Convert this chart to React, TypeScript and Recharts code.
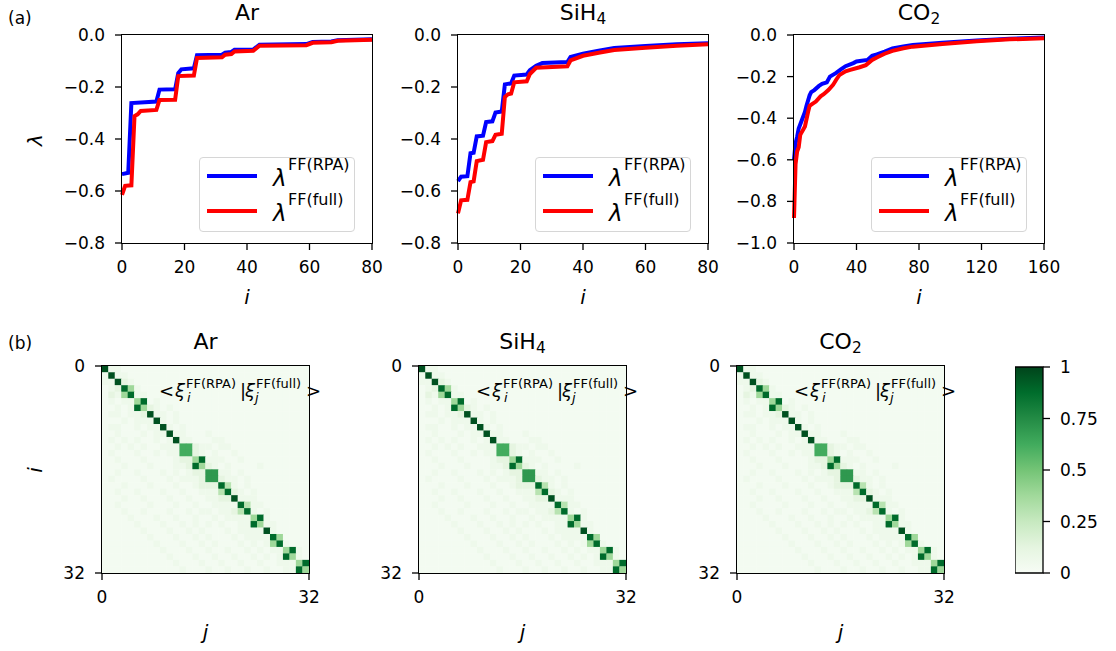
import React from 'react';
import { LineChart, Line, XAxis, YAxis, ScatterChart, Scatter, BarChart, Bar } from 'recharts';

const FONT = '"DejaVu Sans", "Liberation Sans", sans-serif';

// (a) eigenvalue curves, [i, lambda] breakpoints
const AR_RPA: [number, number][] = [
  [0, -0.535], [2, -0.53], [3, -0.262], [11, -0.256], [12, -0.21], [17, -0.209], [18, -0.147],
  [19, -0.132], [23, -0.128], [24, -0.078], [32, -0.076], [33, -0.068], [35, -0.065], [36, -0.057],
  [42, -0.056], [44, -0.037], [59, -0.035], [61, -0.027], [67, -0.025], [69, -0.02], [80, -0.016],
];
const AR_FULL: [number, number][] = [
  [0, -0.615], [1, -0.58], [3, -0.578], [4, -0.312], [5, -0.305], [6, -0.292], [11, -0.288],
  [12, -0.25], [17, -0.249], [18, -0.158], [23, -0.156], [24, -0.088], [32, -0.086], [33, -0.076],
  [35, -0.073], [36, -0.063], [42, -0.061], [44, -0.041], [59, -0.039], [61, -0.03], [67, -0.028],
  [69, -0.022], [80, -0.018],
];
const SIH4_RPA: [number, number][] = [
  [0, -0.562], [1, -0.545], [3, -0.543], [4, -0.455], [5, -0.453], [6, -0.39], [8, -0.387],
  [9, -0.335], [11, -0.332], [12, -0.298], [14, -0.294], [15, -0.19], [17, -0.186], [18, -0.156],
  [22, -0.152], [23, -0.135], [25, -0.118], [27, -0.108], [35, -0.104], [36, -0.085], [40, -0.072],
  [45, -0.06], [50, -0.05], [60, -0.042], [70, -0.036], [80, -0.032],
];
const SIH4_FULL: [number, number][] = [
  [0, -0.686], [1, -0.636], [3, -0.634], [4, -0.566], [5, -0.563], [6, -0.485], [8, -0.48],
  [9, -0.412], [11, -0.408], [12, -0.384], [14, -0.38], [15, -0.238], [16, -0.228], [17, -0.225],
  [18, -0.182], [22, -0.178], [23, -0.15], [25, -0.126], [35, -0.12], [36, -0.098], [40, -0.08],
  [45, -0.068], [50, -0.058], [60, -0.049], [70, -0.041], [80, -0.036],
];
const CO2_RPA: [number, number][] = [
  [0, -0.6], [1, -0.52], [2, -0.49], [3, -0.45], [5, -0.41], [7, -0.37], [8, -0.34], [10, -0.29],
  [11, -0.275], [13, -0.265], [16, -0.245], [18, -0.235], [21, -0.228], [23, -0.2], [27, -0.182],
  [30, -0.165], [33, -0.15], [38, -0.135], [40, -0.127], [47, -0.12], [50, -0.1], [53, -0.093],
  [58, -0.08], [63, -0.065], [70, -0.055], [76, -0.048], [95, -0.037], [117, -0.027], [138, -0.018],
  [160, -0.012],
];
const CO2_FULL: [number, number][] = [
  [0, -0.88], [1, -0.62], [2, -0.56], [3, -0.54], [4, -0.48], [7, -0.44], [9, -0.37], [10, -0.34],
  [12, -0.33], [14, -0.32], [17, -0.295], [19, -0.285], [22, -0.265], [25, -0.24], [27, -0.215],
  [29, -0.193], [33, -0.175], [36, -0.168], [42, -0.155], [46, -0.145], [50, -0.12], [53, -0.108],
  [58, -0.09], [63, -0.076], [70, -0.064], [76, -0.056], [95, -0.043], [117, -0.03], [138, -0.021],
  [160, -0.016],
];

const X_TICKS_80 = [0, 20, 40, 60, 80];
const X_TICKS_160 = [0, 40, 80, 120, 160];
const Y_TICKS_08 = [-0.8, -0.6, -0.4, -0.2, 0];
const Y_TICKS_10 = [-1, -0.8, -0.6, -0.4, -0.2, 0];

// (b) overlap matrix, one char per cell (level code), rows i = 0..31
const HEAT_ROWS = [
  '91100000 00000000 00000000 00000000',
  '19110000 00000000 00000000 00000000',
  '11921000 00000000 00000000 00000000',
  '01284100 00000000 00000000 00000000',
  '02148110 00000000 00000000 00000000',
  '01011480 10000000 00000000 00000000',
  '00101842 10100000 00000000 00000000',
  '01101129 11010000 00000000 00000000',
  '00010111 91010000 00000000 00000000',
  '01100101 19101000 00000000 00000000',
  '00100010 11911000 10000000 00000000',
  '01010100 10191100 01100000 00000000',
  '00101010 01116621 10110000 00000000',
  '01000100 10116621 01001000 00000000',
  '00100010 00012248 11100100 00000000',
  '00010001 00011284 21010000 10000000',
  '00100100 01010122 77110100 00000000',
  '01000010 00101112 77211010 00000000',
  '00010001 00010012 22831010 00000000',
  '00100100 01001001 11382101 00000000',
  '00010010 00100100 11229111 00000000',
  '00100001 00010010 01111831 10000000',
  '00010010 00100101 10112381 01000000',
  '00001000 10010010 01011114 81000000',
  '00000100 01001010 10100118 41100000',
  '00000010 00100101 00010111 19100000',
  '00000001 00010010 10001011 11840000',
  '00000000 10001001 01000101 01481000',
  '00000000 01000100 10010010 10114810',
  '00000000 00100010 01001001 01018410',
  '00000000 00010001 00100100 10011148',
  '00000000 00001000 10010010 01001184',
];
const LEVELS: Record<string, number> = {
  '0': 0.025, '1': 0.06, '2': 0.12, '3': 0.3, '4': 0.38, '5': 0.5, '6': 0.62, '7': 0.7, '8': 0.88, '9': 0.96,
};
const HEAT_TICKS = [0, 32];
const CB_TICKS = [0, 0.25, 0.5, 0.75, 1];
const GREENS = ['#f7fcf5', '#e5f5e0', '#c7e9c0', '#a1d99b', '#74c476', '#41ab5d', '#238b45', '#006d2c', '#00441b'];

// layout
const PT = 35, PH = 208, PW = 250, YW = 62, MT = 12, MR = 26, XH = 40;
const HT = 366, HS = 207, HYW = 45, HMT = 12, HMR = 22;

const toPts = (arr: [number, number][]) => arr.map(([i, v]) => ({ i, v }));
const fmtTick = (v: number) => (v === 0 ? '0.0' : v.toFixed(1).replace('-', '\u2212'));

const hexRgb = (h: string) => [1, 3, 5].map((k) => parseInt(h.slice(k, k + 2), 16));
const greens = (v: number) => {
  const t = Math.max(0, Math.min(1, v)) * (GREENS.length - 1);
  const k = Math.min(Math.floor(t), GREENS.length - 2);
  const f = t - k;
  const a = hexRgb(GREENS[k]);
  const b = hexRgb(GREENS[k + 1]);
  const c = a.map((x, n) => Math.round(x + (b[n] - x) * f));
  return `rgb(${c[0]},${c[1]},${c[2]})`;
};

const buildCells = (rows: string[]) => {
  const out: { x: number; y: number; v: number }[] = [];
  rows.forEach((r, i) => {
    const s = r.replace(/ /g, '').padEnd(32, '0');
    for (let j = 0; j < 32; j++) out.push({ x: j + 0.5, y: i + 0.5, v: LEVELS[s[j]] ?? 0.025 });
  });
  return out;
};
const CELLS = buildCells(HEAT_ROWS);

const tickStyle = { fill: '#000', fontSize: 17, fontFamily: FONT };
const tickLineStyle = { stroke: '#000', strokeWidth: 1.3 };

function Txt({ x, y, size, italic, center, children }: any) {
  return (
    <div
      style={{
        position: 'absolute', left: x, top: y - 0.846 * size, fontSize: size, lineHeight: 1,
        fontFamily: FONT, fontStyle: italic ? 'italic' : 'normal', whiteSpace: 'nowrap', color: '#000',
        transform: center ? 'translateX(-50%)' : undefined,
      }}
    >
      {children}
    </div>
  );
}

function CLabel({ cx, cy, size, rotate, children }: any) {
  return (
    <div
      style={{
        position: 'absolute', left: cx, top: cy, fontSize: size, lineHeight: 1, fontFamily: FONT,
        fontStyle: 'italic', color: '#000', whiteSpace: 'nowrap',
        transform: `translate(-50%, -50%)${rotate ? ' rotate(-90deg)' : ''}`,
      }}
    >
      {children}
    </div>
  );
}

function Frame({ left, top, w, h }: any) {
  return (
    <div
      style={{
        position: 'absolute', left: left - 0.65, top: top - 0.65, width: w + 1.3, height: h + 1.3,
        border: '1.3px solid #000', boxSizing: 'border-box', pointerEvents: 'none',
      }}
    />
  );
}

function LegendBox({ left, top }: any) {
  const row = (dy: number, color: string, sup: string) => (
    <>
      <div style={{ position: 'absolute', left: 7, top: dy - 2, width: 50, height: 4, background: color }} />
      <Txt x={73} y={dy + 10} size={23} italic>λ</Txt>
      <Txt x={88} y={dy - 5} size={16}>{sup}</Txt>
    </>
  );
  return (
    <div
      style={{
        position: 'absolute', left, top, width: 156, height: 75, border: '1.3px solid #d6d6d6',
        borderRadius: 4, background: 'rgba(255,255,255,0.85)', boxSizing: 'border-box',
      }}
    >
      {row(18, '#0000ff', 'FF(RPA)')}
      {row(53, '#ff0000', 'FF(full)')}
    </div>
  );
}

function LinePanel({ plotLeft, rpa, full, xMax, xTicks, yMin, yTicks }: any) {
  return (
    <>
      <div style={{ position: 'absolute', left: plotLeft - YW, top: PT - MT }}>
        <LineChart width={YW + PW + MR} height={MT + PH + XH} margin={{ top: MT, right: MR, left: 0, bottom: 0 }}>
          <XAxis
            type="number" dataKey="i" domain={[0, xMax]} ticks={xTicks} height={XH} interval={0}
            axisLine={false} tickLine={tickLineStyle} tickSize={7} tickMargin={11} tick={tickStyle}
          />
          <YAxis
            type="number" domain={[yMin, 0]} ticks={yTicks} width={YW} tickFormatter={fmtTick} interval={0}
            axisLine={false} tickLine={tickLineStyle} tickSize={7} tickMargin={10} tick={tickStyle}
          />
          <Line data={toPts(rpa)} dataKey="v" type="linear" stroke="#0000ff" strokeWidth={4} dot={false} isAnimationActive={false} />
          <Line data={toPts(full)} dataKey="v" type="linear" stroke="#ff0000" strokeWidth={4} dot={false} isAnimationActive={false} />
        </LineChart>
      </div>
      <Frame left={plotLeft} top={PT} w={PW} h={PH} />
      <LegendBox left={plotLeft + 77} top={PT + 122} />
    </>
  );
}

const CELL = HS / 32;
const renderCell = (p: any) => (
  <rect
    x={p.cx - CELL / 2 - 0.2} y={p.cy - CELL / 2 - 0.2} width={CELL + 0.4} height={CELL + 0.4}
    fill={greens(p.payload.v)} stroke="none"
  />
);

function HeatPanel({ plotLeft, cells }: any) {
  return (
    <>
      <div style={{ position: 'absolute', left: plotLeft - HYW, top: HT - HMT }}>
        <ScatterChart width={HYW + HS + HMR} height={HMT + HS + XH} margin={{ top: HMT, right: HMR, left: 0, bottom: 0 }}>
          <XAxis
            type="number" dataKey="x" domain={[0, 32]} ticks={HEAT_TICKS} height={XH} interval={0}
            axisLine={false} tickLine={tickLineStyle} tickSize={7} tickMargin={11} tick={tickStyle}
          />
          <YAxis
            type="number" dataKey="y" domain={[0, 32]} ticks={HEAT_TICKS} reversed width={HYW} interval={0}
            axisLine={false} tickLine={tickLineStyle} tickSize={7} tickMargin={10} tick={tickStyle}
          />
          <Scatter data={cells} shape={renderCell} isAnimationActive={false} />
        </ScatterChart>
      </div>
      <Frame left={plotLeft} top={HT} w={HS} h={HS} />
      <Txt x={plotLeft + 57} y={HT + 31} size={18}>&lt;</Txt>
      <Txt x={plotLeft + 73} y={HT + 31} size={18} italic>ξ</Txt>
      <Txt x={plotLeft + 84} y={HT + 22} size={13}>FF(RPA)</Txt>
      <Txt x={plotLeft + 85} y={HT + 36} size={13} italic>i</Txt>
      <Txt x={plotLeft + 138} y={HT + 31} size={18}>|</Txt>
      <Txt x={plotLeft + 143} y={HT + 31} size={18} italic>ξ</Txt>
      <Txt x={plotLeft + 154} y={HT + 22} size={13}>FF(full)</Txt>
      <Txt x={plotLeft + 153} y={HT + 36} size={13} italic>j</Txt>
      <Txt x={plotLeft + 204} y={HT + 31} size={18}>&gt;</Txt>
    </>
  );
}

function ColorBar() {
  const left = 1015, top = 367, w = 28, h = 206;
  return (
    <div style={{ position: 'absolute', left, top: top - 12 }}>
      <BarChart width={w + 70} height={h + 24} data={[{ k: 'cb', v: 1 }]} margin={{ top: 12, right: 0, left: 0, bottom: 12 }} barCategoryGap={0} barGap={0}>
        <defs>
          <linearGradient id="cbGrad" x1="0" y1="1" x2="0" y2="0">
            {GREENS.map((c, n) => (
              <stop key={n} offset={`${(n / (GREENS.length - 1)) * 100}%`} stopColor={c} />
            ))}
          </linearGradient>
        </defs>
        <XAxis dataKey="k" hide />
        <YAxis
          orientation="right" type="number" domain={[0, 1]} ticks={CB_TICKS} width={70} interval={0}
          axisLine={false} tickLine={tickLineStyle} tickSize={7} tickMargin={10} tick={{ ...tickStyle, textAnchor: 'start' }}
        />
        <Bar dataKey="v" fill="url(#cbGrad)" stroke="#000" strokeWidth={1.3} isAnimationActive={false} />
      </BarChart>
    </div>
  );
}

const TOP_LEFTS = [122, 458, 794];
const HEAT_LEFTS = [102, 419, 737];

export default function App() {
  const sub = (t: string) => <span style={{ fontSize: '0.7em', position: 'relative', top: '0.25em' }}>{t}</span>;
  const titles = [<>Ar</>, <>SiH{sub('4')}</>, <>CO{sub('2')}</>];
  return (
    <div style={{ position: 'absolute', left: 0, top: 0, width: 1116, height: 651, background: '#fff', fontFamily: FONT, overflow: 'hidden' }}>
      <Txt x={8} y={24} size={17}>(a)</Txt>
      <Txt x={8} y={349} size={17}>(b)</Txt>

      <LinePanel plotLeft={TOP_LEFTS[0]} rpa={AR_RPA} full={AR_FULL} xMax={80} xTicks={X_TICKS_80} yMin={-0.8} yTicks={Y_TICKS_08} />
      <LinePanel plotLeft={TOP_LEFTS[1]} rpa={SIH4_RPA} full={SIH4_FULL} xMax={80} xTicks={X_TICKS_80} yMin={-0.8} yTicks={Y_TICKS_08} />
      <LinePanel plotLeft={TOP_LEFTS[2]} rpa={CO2_RPA} full={CO2_FULL} xMax={160} xTicks={X_TICKS_160} yMin={-1} yTicks={Y_TICKS_10} />

      {TOP_LEFTS.map((l, n) => (
        <Txt key={'tt' + n} x={l + PW / 2} y={21} size={22} center>{titles[n]}</Txt>
      ))}
      {TOP_LEFTS.map((l, n) => (
        <CLabel key={'ti' + n} cx={l + PW / 2} cy={297} size={20}>i</CLabel>
      ))}
      <CLabel cx={35} cy={140} size={20} rotate>λ</CLabel>

      {HEAT_LEFTS.map((l, n) => (
        <HeatPanel key={'hp' + n} plotLeft={l} cells={CELLS} />
      ))}
      {HEAT_LEFTS.map((l, n) => (
        <Txt key={'ht' + n} x={l + HS / 2} y={350} size={22} center>{titles[n]}</Txt>
      ))}
      {HEAT_LEFTS.map((l, n) => (
        <CLabel key={'hj' + n} cx={l + HS / 2} cy={632} size={20}>j</CLabel>
      ))}
      <CLabel cx={35} cy={470} size={20} rotate>i</CLabel>

      <ColorBar />
    </div>
  );
}
